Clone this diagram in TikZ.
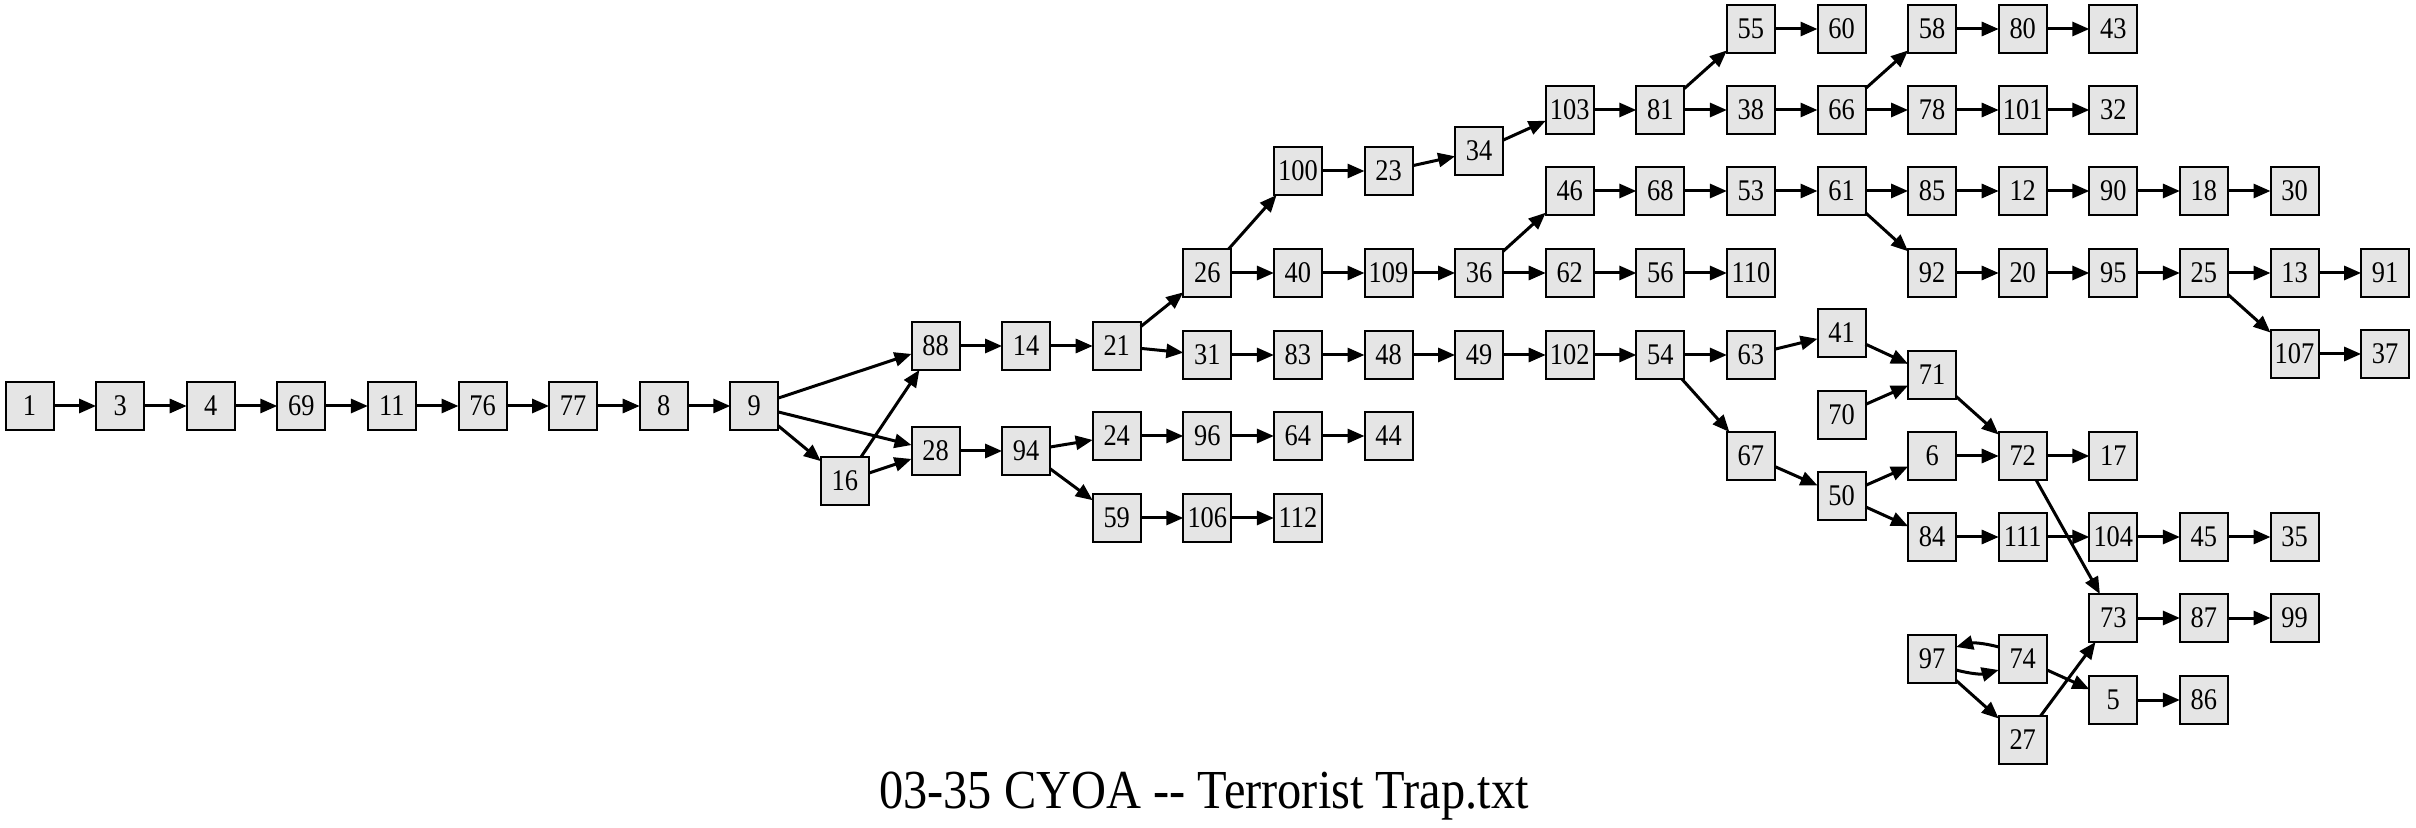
\documentclass[tikz,border=0pt]{standalone}
\usepackage{fontspec}
\setmainfont{Liberation Serif}[FakeStretch=0.88]
\usepackage{xcolor}
\usepackage{tikz}
\usetikzlibrary{arrows.meta,positioning}
\definecolor{cyoagray}{HTML}{E5E5E5}
\tikzset{
  jumparrow/.style={-{Triangle[length=8.5pt,width=7pt]}, line width=1.5pt, draw=black},
  pagebox/.style={draw=black, line width=1pt, fill=cyoagray, minimum width=24pt,
    minimum height=24pt, inner sep=1pt, outer sep=0pt, font=\fontsize{15}{17}\selectfont},
  titletext/.style={font=\fontsize{27.5}{32}\selectfont, inner sep=0pt, anchor=base}
}

\begin{document}
\begin{tikzpicture}[x=0.5pt, y=-0.5pt, node distance=21.3pt]
        \useasboundingbox (0,0) rectangle (2416,828);

        % main line
        \node[pagebox] (n1) at ({29.5+90.6*0}, 406) {1};
        \node[pagebox, right=of n1] (n3) {3};
        \node[pagebox, right=of n3] (n4) {4};
        \node[pagebox, right=of n4] (n69) {69};
        \node[pagebox, right=of n69] (n11) {11};
        \node[pagebox, right=of n11] (n76) {76};
        \node[pagebox, right=of n76] (n77) {77};
        \node[pagebox, right=of n77] (n8) {8};
        \node[pagebox, right=of n8] (n9) {9};
        \node[pagebox] (n16) at ({29.5+90.6*9}, 481) {16};
        \node[pagebox] (n88) at ({29.5+90.6*10}, 346) {88};
        \node[pagebox, right=of n88] (n14) {14};
        \node[pagebox, right=of n14] (n21) {21};
        \node[pagebox] (n28) at ({29.5+90.6*10}, 451) {28};
        \node[pagebox, right=of n28] (n94) {94};
        \node[pagebox] (n24) at ({29.5+90.6*12}, 436) {24};
        \node[pagebox, right=of n24] (n96) {96};
        \node[pagebox, right=of n96] (n64) {64};
        \node[pagebox, right=of n64] (n44) {44};
        \node[pagebox] (n59) at ({29.5+90.6*12}, 518) {59};
        \node[pagebox, right=of n59] (n106) {106};
        \node[pagebox, right=of n106] (n112) {112};

        % upper branches
        \node[pagebox] (n31) at ({29.5+90.6*13}, 355) {31};
        \node[pagebox, right=of n31] (n83) {83};
        \node[pagebox, right=of n83] (n48) {48};
        \node[pagebox, right=of n48] (n49) {49};
        \node[pagebox, right=of n49] (n102) {102};
        \node[pagebox, right=of n102] (n54) {54};
        \node[pagebox, right=of n54] (n63) {63};
        \node[pagebox] (n26) at ({29.5+90.6*13}, 273) {26};
        \node[pagebox, right=of n26] (n40) {40};
        \node[pagebox, right=of n40] (n109) {109};
        \node[pagebox, right=of n109] (n36) {36};
        \node[pagebox, right=of n36] (n62) {62};
        \node[pagebox, right=of n62] (n56) {56};
        \node[pagebox, right=of n56] (n110) {110};
        \node[pagebox] (n92) at ({29.5+90.6*21}, 273) {92};
        \node[pagebox, right=of n92] (n20) {20};
        \node[pagebox, right=of n20] (n95) {95};
        \node[pagebox, right=of n95] (n25) {25};
        \node[pagebox, right=of n25] (n13) {13};
        \node[pagebox, right=of n13] (n91) {91};
        \node[pagebox] (n100) at ({29.5+90.6*14}, 171) {100};
        \node[pagebox, right=of n100] (n23) {23};
        \node[pagebox] (n34) at ({29.5+90.6*16}, 151) {34};
        \node[pagebox] (n103) at ({29.5+90.6*17}, 110) {103};
        \node[pagebox, right=of n103] (n81) {81};
        \node[pagebox, right=of n81] (n38) {38};
        \node[pagebox, right=of n38] (n66) {66};
        \node[pagebox, right=of n66] (n78) {78};
        \node[pagebox, right=of n78] (n101) {101};
        \node[pagebox, right=of n101] (n32) {32};
        \node[pagebox] (n55) at ({29.5+90.6*19}, 29) {55};
        \node[pagebox, right=of n55] (n60) {60};
        \node[pagebox] (n58) at ({29.5+90.6*21}, 29) {58};
        \node[pagebox, right=of n58] (n80) {80};
        \node[pagebox, right=of n80] (n43) {43};
        \node[pagebox] (n46) at ({29.5+90.6*17}, 191) {46};
        \node[pagebox, right=of n46] (n68) {68};
        \node[pagebox, right=of n68] (n53) {53};
        \node[pagebox, right=of n53] (n61) {61};
        \node[pagebox, right=of n61] (n85) {85};
        \node[pagebox, right=of n85] (n12) {12};
        \node[pagebox, right=of n12] (n90) {90};
        \node[pagebox, right=of n90] (n18) {18};
        \node[pagebox, right=of n18] (n30) {30};
        \node[pagebox] (n107) at ({29.5+90.6*25}, 354) {107};
        \node[pagebox, right=of n107] (n37) {37};

        % lower right cluster
        \node[pagebox] (n41) at ({29.5+90.6*20}, 333) {41};
        \node[pagebox] (n71) at ({29.5+90.6*21}, 375) {71};
        \node[pagebox] (n70) at ({29.5+90.6*20}, 415) {70};
        \node[pagebox] (n67) at ({29.5+90.6*19}, 456) {67};
        \node[pagebox] (n6) at ({29.5+90.6*21}, 456) {6};
        \node[pagebox, right=of n6] (n72) {72};
        \node[pagebox, right=of n72] (n17) {17};
        \node[pagebox] (n50) at ({29.5+90.6*20}, 496) {50};
        \node[pagebox] (n84) at ({29.5+90.6*21}, 537) {84};
        \node[pagebox, right=of n84] (n111) {111};
        \node[pagebox, right=of n111] (n104) {104};
        \node[pagebox, right=of n104] (n45) {45};
        \node[pagebox, right=of n45] (n35) {35};
        \node[pagebox] (n73) at ({29.5+90.6*23}, 618) {73};
        \node[pagebox, right=of n73] (n87) {87};
        \node[pagebox, right=of n87] (n99) {99};
        \node[pagebox] (n97) at ({29.5+90.6*21}, 659) {97};
        \node[pagebox, right=of n97] (n74) {74};
        \node[pagebox] (n5) at ({29.5+90.6*23}, 700) {5};
        \node[pagebox, right=of n5] (n86) {86};
        \node[pagebox] (n27) at ({29.5+90.6*22}, 740) {27};

        \node[titletext] (title) at (1204, 808) {03-35 CYOA -{}- Terrorist Trap.txt};

        \draw[jumparrow] (n1) -- (n3);
        \draw[jumparrow] (n3) -- (n4);
        \draw[jumparrow] (n4) -- (n69);
        \draw[jumparrow] (n69) -- (n11);
        \draw[jumparrow] (n11) -- (n76);
        \draw[jumparrow] (n76) -- (n77);
        \draw[jumparrow] (n77) -- (n8);
        \draw[jumparrow] (n8) -- (n9);
        \draw[jumparrow] (n9) -- (n88);
        \draw[jumparrow] (n9) -- (n28);
        \draw[jumparrow] (n9) -- (n16);
        \draw[jumparrow] (n16) -- (n88);
        \draw[jumparrow] (n16) -- (n28);
        \draw[jumparrow] (n88) -- (n14);
        \draw[jumparrow] (n14) -- (n21);
        \draw[jumparrow] (n21) -- (n26);
        \draw[jumparrow] (n21) -- (n31);
        \draw[jumparrow] (n28) -- (n94);
        \draw[jumparrow] (n94) -- (n24);
        \draw[jumparrow] (n94) -- (n59);
        \draw[jumparrow] (n24) -- (n96);
        \draw[jumparrow] (n96) -- (n64);
        \draw[jumparrow] (n64) -- (n44);
        \draw[jumparrow] (n59) -- (n106);
        \draw[jumparrow] (n106) -- (n112);
        \draw[jumparrow] (n26) -- (n100);
        \draw[jumparrow] (n26) -- (n40);
        \draw[jumparrow] (n100) -- (n23);
        \draw[jumparrow] (n23) -- (n34);
        \draw[jumparrow] (n34) -- (n103);
        \draw[jumparrow] (n103) -- (n81);
        \draw[jumparrow] (n81) -- (n55);
        \draw[jumparrow] (n81) -- (n38);
        \draw[jumparrow] (n55) -- (n60);
        \draw[jumparrow] (n38) -- (n66);
        \draw[jumparrow] (n66) -- (n58);
        \draw[jumparrow] (n66) -- (n78);
        \draw[jumparrow] (n58) -- (n80);
        \draw[jumparrow] (n80) -- (n43);
        \draw[jumparrow] (n78) -- (n101);
        \draw[jumparrow] (n101) -- (n32);
        \draw[jumparrow] (n40) -- (n109);
        \draw[jumparrow] (n109) -- (n36);
        \draw[jumparrow] (n36) -- (n46);
        \draw[jumparrow] (n36) -- (n62);
        \draw[jumparrow] (n62) -- (n56);
        \draw[jumparrow] (n56) -- (n110);
        \draw[jumparrow] (n46) -- (n68);
        \draw[jumparrow] (n68) -- (n53);
        \draw[jumparrow] (n53) -- (n61);
        \draw[jumparrow] (n61) -- (n85);
        \draw[jumparrow] (n61) -- (n92);
        \draw[jumparrow] (n85) -- (n12);
        \draw[jumparrow] (n12) -- (n90);
        \draw[jumparrow] (n90) -- (n18);
        \draw[jumparrow] (n18) -- (n30);
        \draw[jumparrow] (n92) -- (n20);
        \draw[jumparrow] (n20) -- (n95);
        \draw[jumparrow] (n95) -- (n25);
        \draw[jumparrow] (n25) -- (n13);
        \draw[jumparrow] (n13) -- (n91);
        \draw[jumparrow] (n25) -- (n107);
        \draw[jumparrow] (n107) -- (n37);
        \draw[jumparrow] (n31) -- (n83);
        \draw[jumparrow] (n83) -- (n48);
        \draw[jumparrow] (n48) -- (n49);
        \draw[jumparrow] (n49) -- (n102);
        \draw[jumparrow] (n102) -- (n54);
        \draw[jumparrow] (n54) -- (n63);
        \draw[jumparrow] (n54) -- (n67);
        \draw[jumparrow] (n63) -- (n41);
        \draw[jumparrow] (n41) -- (n71);
        \draw[jumparrow] (n70) -- (n71);
        \draw[jumparrow] (n71) -- (n72);
        \draw[jumparrow] (n67) -- (n50);
        \draw[jumparrow] (n50) -- (n6);
        \draw[jumparrow] (n50) -- (n84);
        \draw[jumparrow] (n6) -- (n72);
        \draw[jumparrow] (n72) -- (n17);
        \draw[jumparrow] (n72) -- (n73);
        \draw[jumparrow] (n84) -- (n111);
        \draw[jumparrow] (n111) -- (n104);
        \draw[jumparrow] (n104) -- (n45);
        \draw[jumparrow] (n45) -- (n35);
        \draw[jumparrow] (n73) -- (n87);
        \draw[jumparrow] (n87) -- (n99);
        \draw[jumparrow] ([yshift=6pt]n74.west) to[bend right=15] ([yshift=6pt]n97.east);
        \draw[jumparrow] ([yshift=-5.5pt]n97.east) to[bend right=15] ([yshift=-5.5pt]n74.west);
        \draw[jumparrow] (n97) -- (n27);
        \draw[jumparrow] (n74) -- (n5);
        \draw[jumparrow] (n27) -- (n73);
        \draw[jumparrow] (n5) -- (n86);
    \end{tikzpicture}
\end{document}
